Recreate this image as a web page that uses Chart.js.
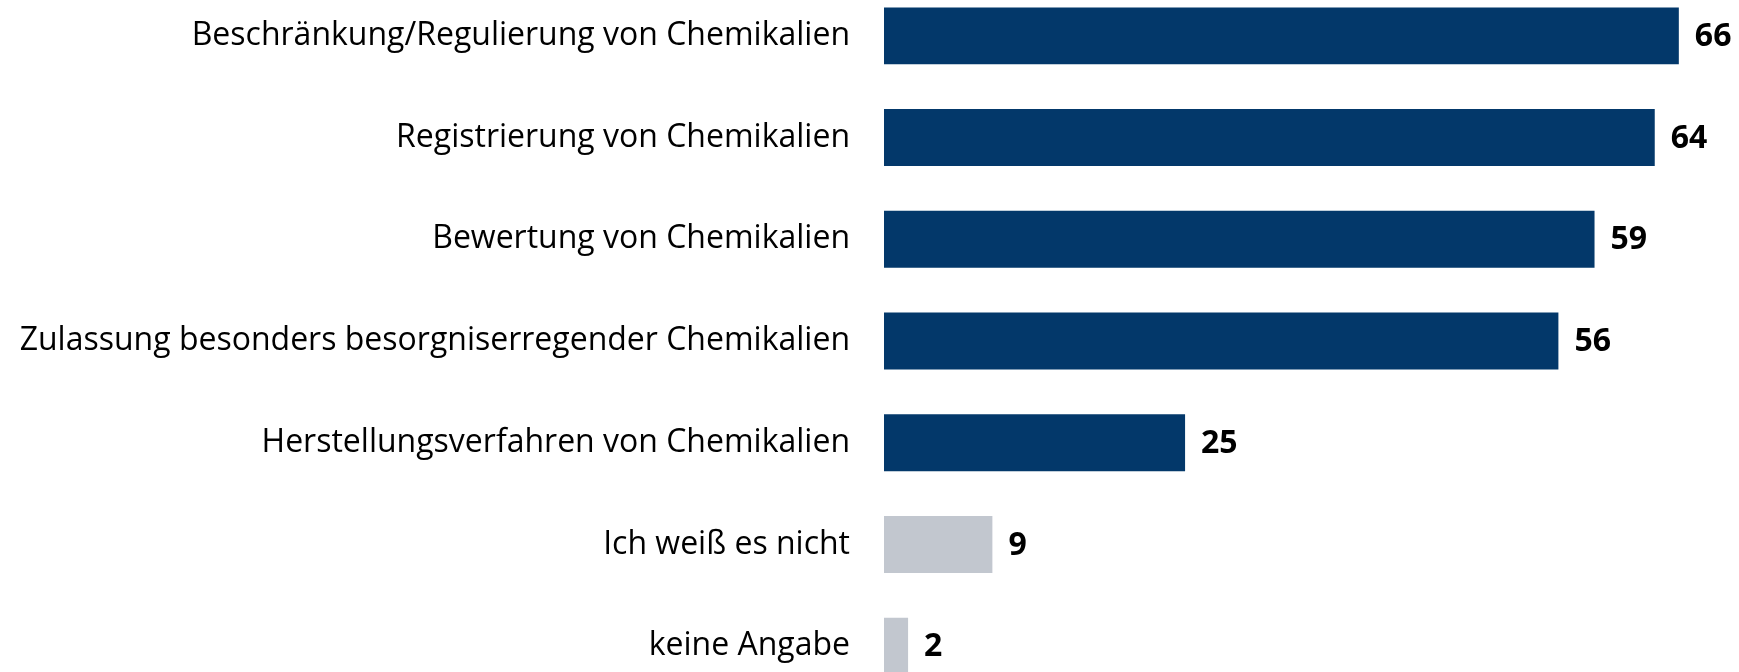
<!DOCTYPE html>
<html lang="de">
<head>
<meta charset="utf-8">
<script src="https://cdn.jsdelivr.net/npm/chart.js@4"></script>
<style>
  html, body { margin: 0; padding: 0; background: #fff; overflow: hidden; }
  body { width: 1739px; height: 672px; position: relative; }
  #wrap { position: absolute; left: 0; top: -15px; width: 1739px; height: 712px; }
</style>
</head>
<body>
<div id="wrap"><canvas id="chart-bars"></canvas></div>
<script>
const categories = [
    "Beschränkung/Regulierung von Chemikalien",
    "Registrierung von Chemikalien",
    "Bewertung von Chemikalien",
    "Zulassung besonders besorgniserregender Chemikalien",
    "Herstellungsverfahren von Chemikalien",
    "Ich weiß es nicht",
    "keine Angabe"
];
const values = [66, 64, 59, 56, 25, 9, 2];
const barColors = ["#03386A", "#03386A", "#03386A", "#03386A", "#03386A", "#C2C7CF", "#C2C7CF"];

const FONT = "'Open Sans', 'Noto Sans', sans-serif";

// value numbers drawn right of each bar
const valueLabels = {
    id: "valueLabels",
    afterDatasetsDraw(chart) {
        const ctx = chart.ctx;
        const meta = chart.getDatasetMeta(0);
        ctx.save();
        ctx.font = "bold 32px " + FONT;
        ctx.fillStyle = "#000";
        ctx.textAlign = "left";
        ctx.textBaseline = "middle";
        meta.data.forEach(function (bar, i) {
            ctx.fillText(String(values[i]), bar.x + 16, bar.y + 1);
        });
        ctx.restore();
    }
};

document.addEventListener("DOMContentLoaded", function () {
    const ctx = document.getElementById("chart-bars").getContext("2d");

    new Chart(ctx, {
        type: "bar",
        data: {
            labels: categories,
            datasets: [{
                data: values,
                backgroundColor: barColors,
                borderWidth: 0,
                barPercentage: 0.56,
                categoryPercentage: 1
            }]
        },
        options: {
            indexAxis: "y",
            responsive: true,
            maintainAspectRatio: false,
            animation: false,
            layout: { padding: { left: 0, right: 12, top: 0, bottom: 0 } },
            plugins: {
                legend: { display: false },
                tooltip: { enabled: false }
            },
            scales: {
                x: {
                    display: false,
                    min: 0,
                    max: 70
                },
                y: {
                    grid: { display: false, drawTicks: false },
                    border: { display: false },
                    ticks: {
                        color: "#000",
                        padding: 34,
                        font: { family: FONT, size: 32 }
                    },
                    afterFit: function (scale) {
                        // fixed label column, no extra room above/below
                        scale.width = 884;
                        scale.paddingTop = 0;
                        scale.paddingBottom = 0;
                    }
                }
            }
        },
        plugins: [valueLabels]
    });
});
</script>
</body>
</html>
